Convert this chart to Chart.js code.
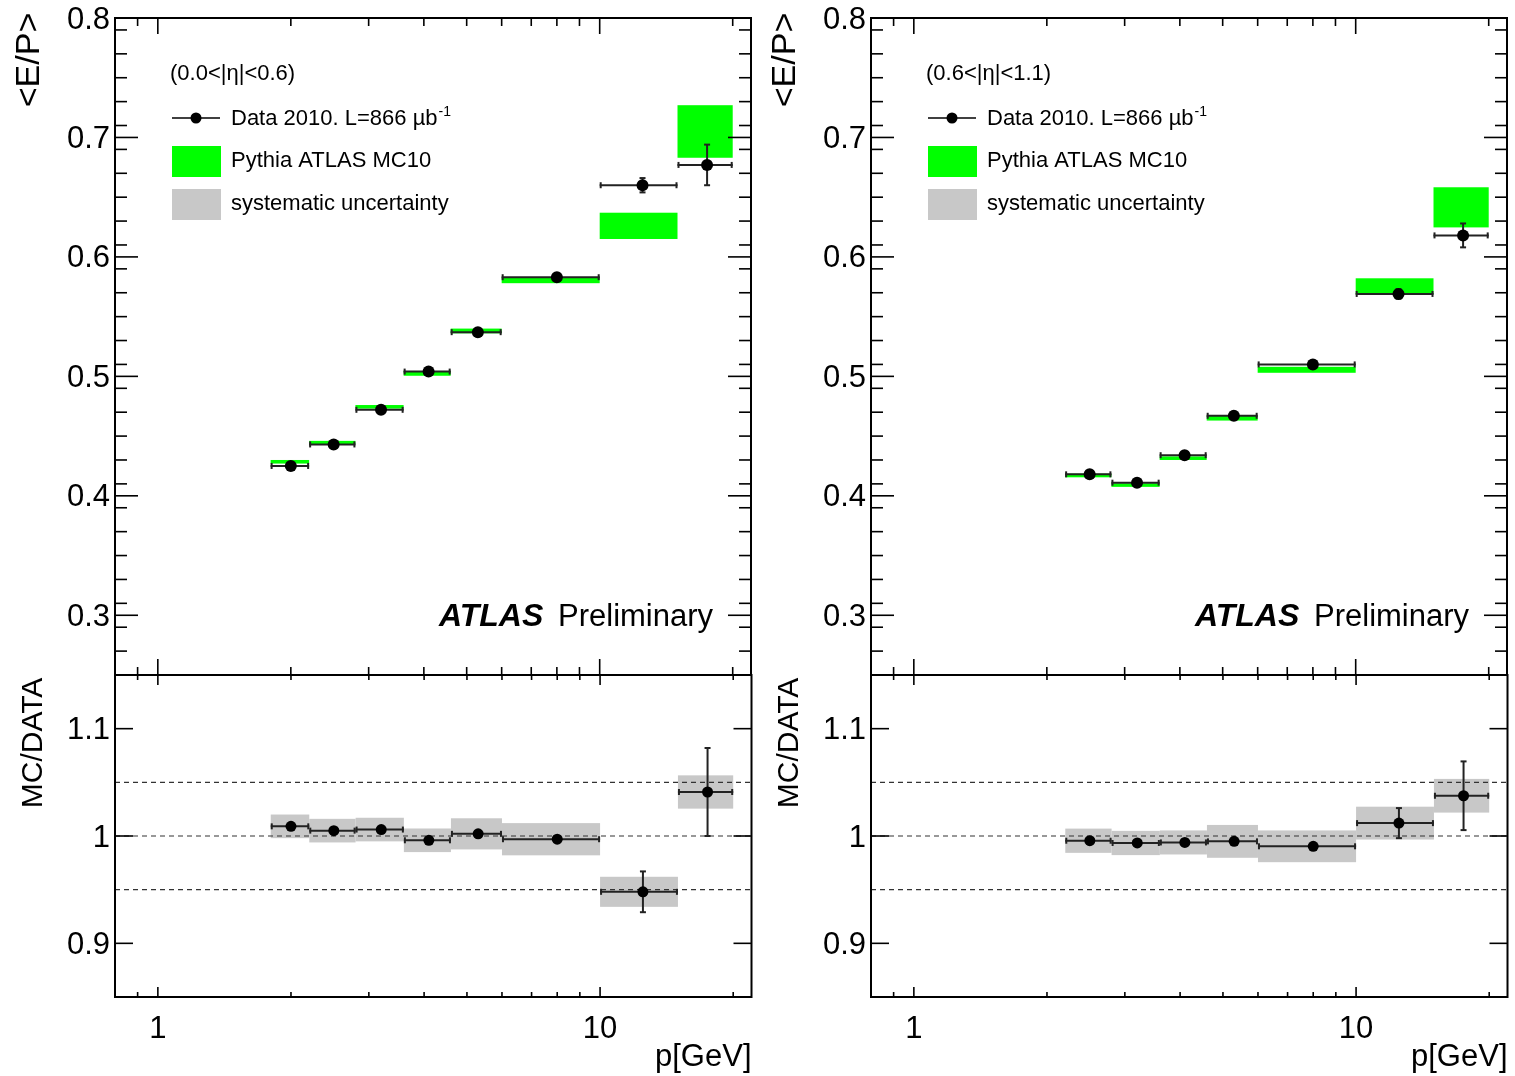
<!DOCTYPE html>
<html>
<head>
<meta charset="utf-8">
<script src="https://cdn.jsdelivr.net/npm/chart.js@4.4.0/dist/chart.umd.min.js"></script>
<style>
  body { margin: 0; background: #fff; }
  .col { position: absolute; top: 0; width: 757px; height: 1076px; }
  .col canvas { position: absolute; left: 0; top: 0; }
</style>
</head>
<body>
<div class="col" style="left:0"><canvas id="topL" width="757" height="1076"></canvas><canvas id="ratioL" width="757" height="1076"></canvas></div>
<div class="col" style="left:756px"><canvas id="topR" width="757" height="1076"></canvas><canvas id="ratioR" width="757" height="1076"></canvas></div>
<script>
// momentum bins [GeV] and bin centres
const edgesLeft = [1.8, 2.2, 2.8, 3.6, 4.6, 6, 10, 15, 20];
const edgesRight = [2.2, 2.8, 3.6, 4.6, 6, 10, 15, 20];
const pLeft = [2.0, 2.5, 3.2, 4.1, 5.3, 8.0, 12.5, 17.5];
const pRight = [2.5, 3.2, 4.1, 5.3, 8.0, 12.5, 17.5];

// <E/P> in data 2010
const epDataLeft = [0.425, 0.443, 0.472, 0.504, 0.537, 0.583, 0.660, 0.677];
const epErrLeft = [0.001, 0.001, 0.001, 0.001, 0.001, 0.001, 0.006, 0.017];
const epDataRight = [0.418, 0.411, 0.434, 0.467, 0.510, 0.569, 0.618];
const epErrRight = [0.001, 0.001, 0.001, 0.001, 0.001, 0.004, 0.010];

// Pythia MC10 band: centre and half height
const mcLeft = [0.4285, 0.4445, 0.4745, 0.5025, 0.538, 0.5805, 0.626, 0.705];
const mcErrLeft = [0.0015, 0.0015, 0.0015, 0.002, 0.002, 0.0025, 0.011, 0.022];
const mcRight = [0.417, 0.409, 0.4315, 0.465, 0.5055, 0.5755, 0.6415];
const mcErrRight = [0.0015, 0.0015, 0.0015, 0.002, 0.0025, 0.0066, 0.0168];

// MC/DATA ratio, stat error and systematic half height
const ratioLeft = [1.009, 1.005, 1.006, 0.996, 1.002, 0.997, 0.948, 1.041];
const ratioErrLeft = [0.001, 0.001, 0.001, 0.001, 0.001, 0.002, 0.019, 0.041];
const sysLeft = [0.011, 0.011, 0.011, 0.011, 0.0145, 0.015, 0.014, 0.0155];
const ratioRight = [0.9956, 0.9935, 0.994, 0.995, 0.9904, 1.012, 1.0375];
const ratioErrRight = [0.001, 0.001, 0.001, 0.001, 0.003, 0.014, 0.032];
const sysRight = [0.0113, 0.0113, 0.0112, 0.0153, 0.0148, 0.0153, 0.0157];

// axes
const epTicks = [0.3, 0.4, 0.5, 0.6, 0.7, 0.8];
const ratioTicks = [0.9, 1, 1.1];
const ratioLines = [0.95, 1, 1.05];
const pLabels = [1, 10];
const pMinor = [0.9, 2, 3, 4, 5, 6, 7, 8, 9, 20];

const FONT = '"Liberation Sans", Arial, Helvetica, sans-serif';

function line(ctx, x0, y0, x1, y1) {
  ctx.beginPath();
  ctx.moveTo(x0, y0);
  ctx.lineTo(x1, y1);
  ctx.stroke();
}

const rootFrame = {
  id: 'rootFrame',
  beforeDatasetsDraw(chart, args, o) {
    const { ctx, chartArea: a, scales: { x, y } } = chart;
    ctx.save();
    o.boxes.forEach(b => {
      const x0 = x.getPixelForValue(b.lo), x1 = x.getPixelForValue(b.hi);
      const y0 = y.getPixelForValue(b.y + b.h), y1 = y.getPixelForValue(b.y - b.h);
      ctx.fillStyle = o.boxColor;
      ctx.fillRect(x0, y0, x1 - x0, Math.max(y1 - y0, 2));
    });
    ctx.strokeStyle = '#333';
    ctx.lineWidth = 1.2;
    ctx.setLineDash([5, 4]);
    (o.refLines || []).forEach(v => {
      const py = y.getPixelForValue(v);
      line(ctx, a.left, py, a.right, py);
    });
    ctx.setLineDash([]);
    ctx.strokeStyle = '#222';
    ctx.lineWidth = 2;
    o.errs.forEach(e => {
      const x0 = x.getPixelForValue(e.lo), x1 = x.getPixelForValue(e.hi);
      const px = x.getPixelForValue(e.x), py = y.getPixelForValue(e.y);
      line(ctx, x0, py, x1, py);
      line(ctx, x0 + 1, py - 3, x0 + 1, py + 3);
      line(ctx, x1 - 1, py - 3, x1 - 1, py + 3);
      const yt = y.getPixelForValue(e.y + e.e), yb = y.getPixelForValue(e.y - e.e);
      if (yb - yt > 8) {
        line(ctx, px, yt, px, yb);
        line(ctx, px - 3, yt, px + 3, yt);
        line(ctx, px - 3, yb, px + 3, yb);
      }
    });
    ctx.restore();
  },
  afterDraw(chart, args, o) {
    const { ctx, chartArea: a, scales: { x, y } } = chart;
    ctx.save();
    ctx.strokeStyle = '#000';
    ctx.fillStyle = '#000';
    ctx.lineWidth = 1.6;
    // x ticks, top and bottom edge
    const xt = (v, len) => {
      const px = x.getPixelForValue(v);
      line(ctx, px, a.top, px, a.top + len);
      line(ctx, px, a.bottom, px, a.bottom - len);
    };
    pLabels.forEach(v => xt(v, o.xMajorLen));
    pMinor.forEach(v => xt(v, o.xMinorLen));
    // y ticks, left and right edge
    const yt = (v, len) => {
      const py = y.getPixelForValue(v);
      line(ctx, a.left, py, a.left + len, py);
      line(ctx, a.right, py, a.right - len, py);
    };
    o.yTicks.forEach(v => yt(v, o.yMajorLen));
    if (o.yMinorStep) {
      const n = Math.round((y.max - y.min) / o.yMinorStep);
      for (let i = 1; i < n; i++) yt(y.min + i * o.yMinorStep, o.yMinorLen);
    }
    ctx.lineWidth = 2;
    ctx.strokeRect(a.left, a.top, a.right - a.left, a.bottom - a.top);

    // tick labels
    ctx.font = '31px ' + FONT;
    ctx.textAlign = 'right';
    ctx.textBaseline = 'middle';
    o.yTicks.forEach(v => ctx.fillText(String(v), a.left - 5, y.getPixelForValue(v) + 2));
    if (o.xLabels) {
      ctx.textAlign = 'center';
      pLabels.forEach(v => ctx.fillText(String(v), x.getPixelForValue(v), 1029));
      ctx.font = '31px ' + FONT;
      ctx.textAlign = 'right';
      ctx.textBaseline = 'alphabetic';
      ctx.fillText('p[GeV]', a.right, 1066);
    }
    // y title
    ctx.save();
    ctx.translate(o.titleX, o.titleY);
    ctx.rotate(-Math.PI / 2);
    ctx.font = o.titleSize + 'px ' + FONT;
    ctx.textAlign = 'center';
    ctx.textBaseline = 'middle';
    ctx.fillText(o.title, 0, 0);
    ctx.restore();

    if (o.legend) {
      ctx.textAlign = 'left';
      ctx.textBaseline = 'middle';
      ctx.font = '22px ' + FONT;
      ctx.fillText(o.eta, 170, 74);
      // data entry
      ctx.lineWidth = 1.5;
      line(ctx, 172, 118, 220, 118);
      ctx.beginPath();
      ctx.arc(196, 118, 5.5, 0, Math.PI * 2);
      ctx.fill();
      ctx.font = '22px ' + FONT;
      const t = 'Data 2010. L=866 \u00b5b';
      ctx.fillText(t, 231, 119);
      const w = ctx.measureText(t).width;
      ctx.font = '14px ' + FONT;
      ctx.fillText('-1', 231 + w + 1, 112);
      ctx.font = '22px ' + FONT;
      ctx.fillStyle = '#00ff00';
      ctx.fillRect(172, 146, 49, 31);
      ctx.fillStyle = '#c8c8c8';
      ctx.fillRect(172, 189, 49, 31);
      ctx.fillStyle = '#000';
      ctx.fillText('Pythia ATLAS MC10', 231, 161);
      ctx.fillText('systematic uncertainty', 231, 204);
      // ATLAS label
      ctx.textBaseline = 'alphabetic';
      ctx.font = 'italic bold 32px ' + FONT;
      ctx.fillText('ATLAS', 439, 626);
      ctx.font = '31px ' + FONT;
      ctx.fillText('Preliminary', 558, 626);
    }
    ctx.restore();
  }
};

function binBoxes(edges, centres, halves) {
  return centres.map((c, i) => ({ lo: edges[i], hi: edges[i + 1], y: c, h: halves[i] }));
}
function errBars(edges, xs, ys, errs) {
  return ys.map((v, i) => ({ lo: edges[i], hi: edges[i + 1], x: xs[i], y: v, e: errs[i] }));
}

function baseOptions(padRight, top, bottom, yMin, yMax, frame) {
  return {
    responsive: false,
    animation: false,
    layout: { padding: { left: 115, right: padRight, top: top, bottom: 1076 - bottom } },
    scales: {
      x: { type: 'logarithmic', min: 0.8, max: 22, display: false },
      y: { type: 'linear', min: yMin, max: yMax, display: false }
    },
    plugins: { legend: { display: false }, tooltip: { enabled: false }, rootFrame: frame }
  };
}

function topPanel(id, padRight, edges, p, ep, epErr, mc, mcErr, eta) {
  new Chart(document.getElementById(id), {
    type: 'scatter',
    data: {
      datasets: [{
        label: 'Data 2010',
        data: p.map((v, i) => ({ x: v, y: ep[i] })),
        pointRadius: 6,
        pointBackgroundColor: '#000',
        pointBorderWidth: 0
      }]
    },
    options: baseOptions(padRight, 18, 675, 0.25, 0.8, {
      boxes: binBoxes(edges, mc, mcErr),
      boxColor: '#00ff00',
      errs: errBars(edges, p, ep, epErr),
      yTicks: epTicks, yMajorLen: 23, yMinorLen: 12, yMinorStep: 0.02,
      xMajorLen: 16, xMinorLen: 8,
      title: '<E/P>', titleX: 30, titleY: 60, titleSize: 34,
      legend: true, eta: eta
    }),
    plugins: [rootFrame]
  });
}

function ratioPanel(id, padRight, edges, p, ratio, ratioErr, sys) {
  new Chart(document.getElementById(id), {
    type: 'scatter',
    data: {
      datasets: [{
        label: 'MC/DATA',
        data: p.map((v, i) => ({ x: v, y: ratio[i] })),
        pointRadius: 5.5,
        pointBackgroundColor: '#000',
        pointBorderWidth: 0
      }]
    },
    options: baseOptions(padRight, 675, 997, 0.85, 1.15, {
      boxes: binBoxes(edges, ratio, sys),
      boxColor: '#c8c8c8',
      refLines: ratioLines,
      errs: errBars(edges, p, ratio, ratioErr),
      yTicks: ratioTicks, yMajorLen: 18,
      xMajorLen: 10, xMinorLen: 5,
      xLabels: true,
      title: 'MC/DATA', titleX: 34, titleY: 743, titleSize: 30
    }),
    plugins: [rootFrame]
  });
}

topPanel('topL', 4, edgesLeft, pLeft, epDataLeft, epErrLeft, mcLeft, mcErrLeft, '(0.0<|\u03b7|<0.6)');
ratioPanel('ratioL', 4, edgesLeft, pLeft, ratioLeft, ratioErrLeft, sysLeft);
topPanel('topR', 5, edgesRight, pRight, epDataRight, epErrRight, mcRight, mcErrRight, '(0.6<|\u03b7|<1.1)');
ratioPanel('ratioR', 5, edgesRight, pRight, ratioRight, ratioErrRight, sysRight);
</script>
</body>
</html>
